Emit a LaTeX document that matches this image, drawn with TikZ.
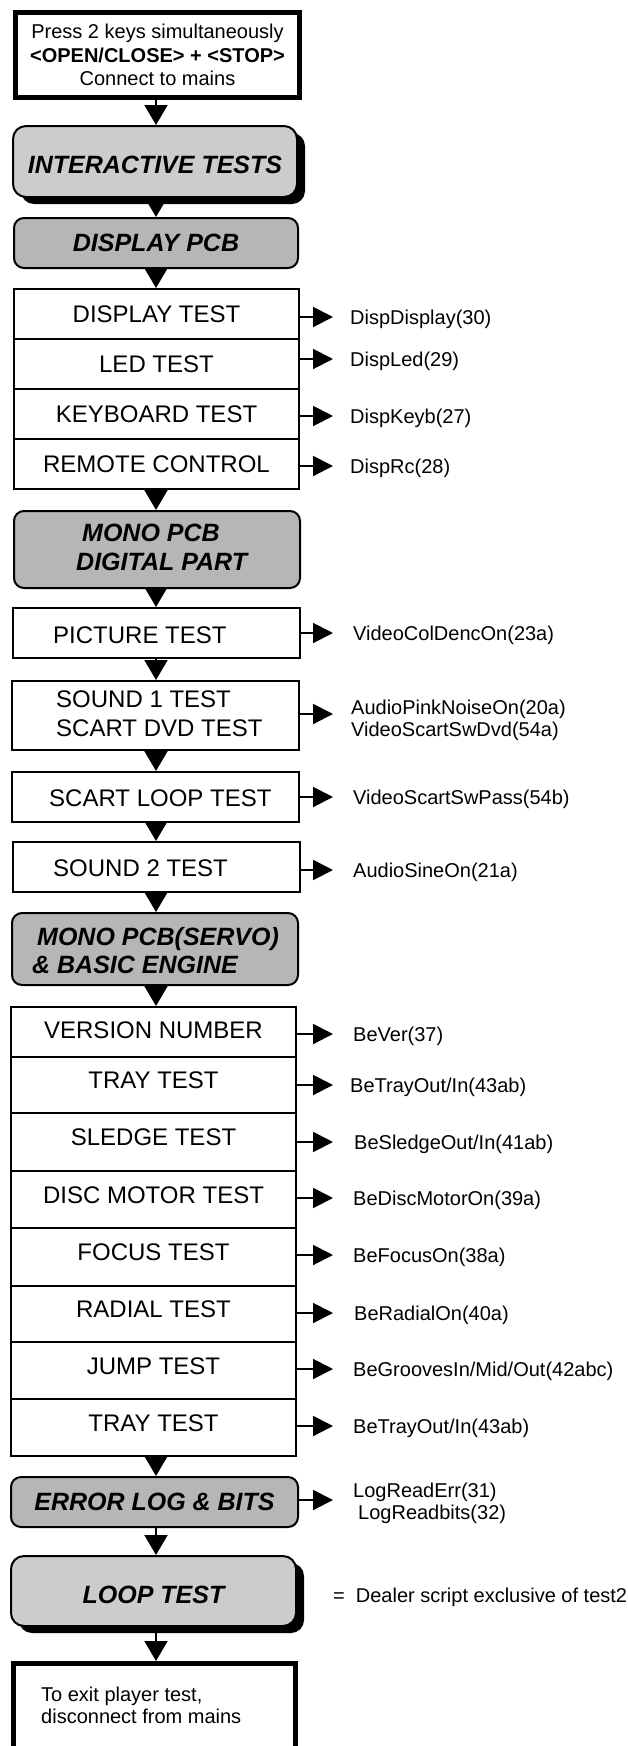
\documentclass[tikz,border=0pt]{standalone}
\usepackage{fontspec}
\setmainfont{Liberation Sans}
\usetikzlibrary{arrows.meta,shadows}
\definecolor{hdark}{RGB}{182,182,182}
\definecolor{hlight}{RGB}{204,204,204}
\newcommand\fsA{\fontsize{24}{28}\selectfont}
\newcommand\fsL{\fontsize{20}{23.5}\selectfont}
\newcommand\fsH{\fontsize{25}{29}\selectfont\bfseries\itshape}
\begin{document}
\begin{tikzpicture}[x=1pt,y=-1pt,
  rowbox/.style={draw, line width=2pt, fill=white, inner sep=0pt, font=\fsA, text height=17.2pt, text depth=0pt},
  hdr/.style={draw, line width=2pt, rounded corners=10pt, fill=hdark, inner sep=0pt, font=\fsH, text height=17.9pt, text depth=0pt},
  hdrs/.style={hdr, fill=hlight, rounded corners=13pt, drop shadow={shadow xshift=8pt, shadow yshift=-7pt, fill=black, opacity=1}},
  heavybox/.style={draw, line width=5pt, fill=white, inner sep=0pt},
  txt/.style={inner sep=0pt, anchor=west, text depth=0pt},
  rtxt/.style={txt, font=\fsA, text height=17.2pt},
  htxt/.style={txt, font=\fsH, text height=17.9pt},
  lbl/.style={txt, font=\fsL, text height=14.3pt},
  darr/.style={line width=2pt, -{Triangle[length=20pt,width=23pt]}},
  sarr/.style={line width=2pt, -{Triangle[length=20pt,width=20pt]}},
]
\useasboundingbox (0,0) rectangle (628,1746);
\coordinate (ax) at (156,0);
\coordinate (tip) at (333,0);

% start box
\node[heavybox, minimum width=284pt, minimum height=85pt, align=center, font=\fsL] (start) at (157.5,55)
  {Press 2 keys simultaneously\\\textbf{<OPEN/CLOSE> + <STOP>}\\Connect to mains};

% interactive
\node[hdrs, minimum width=284pt, minimum height=71pt, text height=24.9pt] (inter) at (155,161.5) {INTERACTIVE TESTS};

% display pcb
\node[hdr, minimum width=284pt, minimum height=50pt] (dpcb) at (156,243) {DISPLAY PCB};

% display rows
\node[rowbox, minimum width=285pt, minimum height=50pt] (d1) at (156.5,314) {DISPLAY TEST};
\node[rowbox, minimum width=285pt, minimum height=50pt] (d2) at (156.5,364) {LED TEST};
\node[rowbox, minimum width=285pt, minimum height=50pt] (d3) at (156.5,414) {KEYBOARD TEST};
\node[rowbox, minimum width=285pt, minimum height=50pt] (d4) at (156.5,464) {REMOTE CONTROL};

\node[lbl] (ld1) at (350,317) {DispDisplay(30)};
\node[lbl] (ld2) at (350,359) {DispLed(29)};
\node[lbl] (ld3) at (350,416) {DispKeyb(27)};
\node[lbl] (ld4) at (350,466) {DispRc(28)};

% mono pcb digital
\node[hdr, minimum width=286pt, minimum height=77pt] (mono) at (157,549.5) {};
\node[htxt] (monoa) at (82,533) {MONO PCB};
\node[htxt] (monob) at (76,562) {DIGITAL PART};

% single boxes
\node[rowbox, minimum width=287pt, minimum height=50pt] (pic) at (156.5,633) {};
\node[rtxt] (pict) at (53,635) {PICTURE TEST};
\node[lbl] (lpic) at (353,633) {VideoColDencOn(23a)};

\node[rowbox, minimum width=287pt, minimum height=69pt] (snd1) at (155.5,715.5) {};
\node[rtxt] (snd1a) at (56,699) {SOUND 1 TEST};
\node[rtxt] (snd1b) at (56,728) {SCART DVD TEST};
\node[lbl] (ls1a) at (351,707) {AudioPinkNoiseOn(20a)};
\node[lbl] (ls1b) at (351,729) {VideoScartSwDvd(54a)};
\coordinate (s1arr) at (333,714);

\node[rowbox, minimum width=287pt, minimum height=50pt] (scart) at (155.5,797) {};
\node[rtxt] (scartt) at (49,798) {SCART LOOP TEST};
\node[lbl] (lsc) at (353,797) {VideoScartSwPass(54b)};

\node[rowbox, minimum width=287pt, minimum height=50pt] (snd2) at (156.5,867) {};
\node[rtxt] (snd2t) at (53,868) {SOUND 2 TEST};
\node[lbl] (ls2) at (353,870) {AudioSineOn(21a)};

% mono servo
\node[hdr, minimum width=286pt, minimum height=72pt] (servo) at (155,949) {};
\node[htxt] (servoa) at (37,937) {MONO PCB(SERVO)};
\node[htxt] (servob) at (32,965) {\& BASIC ENGINE};

% version rows
\node[rowbox, minimum width=285pt, minimum height=50pt, text depth=4pt] (v1) at (153.5,1032) {VERSION NUMBER};
\node[rowbox, minimum width=285pt, minimum height=56pt, text depth=10pt] (v2) at (153.5,1085) {TRAY TEST};
\node[rowbox, minimum width=285pt, minimum height=58pt, text depth=10pt] (v3) at (153.5,1142) {SLEDGE TEST};
\node[rowbox, minimum width=285pt, minimum height=57pt, text depth=10pt] (v4) at (153.5,1199.5) {DISC MOTOR TEST};
\node[rowbox, minimum width=285pt, minimum height=58pt, text depth=10pt] (v5) at (153.5,1257) {FOCUS TEST};
\node[rowbox, minimum width=285pt, minimum height=56pt, text depth=10pt] (v6) at (153.5,1314) {RADIAL TEST};
\node[rowbox, minimum width=285pt, minimum height=57pt, text depth=10pt] (v7) at (153.5,1370.5) {JUMP TEST};
\node[rowbox, minimum width=285pt, minimum height=57pt, text depth=10pt] (v8) at (153.5,1427.5) {TRAY TEST};

\node[lbl] (lv1) at (353,1034) {BeVer(37)};
\node[lbl] (lv2) at (350,1085) {BeTrayOut/In(43ab)};
\node[lbl] (lv3) at (354,1142) {BeSledgeOut/In(41ab)};
\node[lbl] (lv4) at (353,1198) {BeDiscMotorOn(39a)};
\node[lbl] (lv5) at (353,1255) {BeFocusOn(38a)};
\node[lbl] (lv6) at (354,1313) {BeRadialOn(40a)};
\node[lbl] (lv7) at (353,1369) {BeGroovesIn/Mid/Out(42abc)};
\node[lbl] (lv8) at (353,1426) {BeTrayOut/In(43ab)};

% error log
\node[hdr, minimum width=287pt, minimum height=50pt] (err) at (154.5,1502) {ERROR LOG \& BITS};
\node[lbl] (le1) at (353,1490) {LogReadErr(31)};
\node[lbl] (le2) at (358,1512) {LogReadbits(32)};
\coordinate (earr) at (333,1500);

% loop test
\node[hdrs, minimum width=285pt, minimum height=70pt, text height=25.9pt] (loop) at (153.5,1591) {LOOP TEST};
\node[lbl] (deal) at (333,1595) {=\hspace{11pt}Dealer script exclusive of test2};

% exit (bottom edge runs off the page)
\node[heavybox, minimum width=282pt, minimum height=100pt] (exit) at (154.5,1713.5) {};
\node[lbl] (exa) at (41,1694) {To exit player test,};
\node[lbl] (exb) at (41,1716) {disconnect from mains};

% vertical arrows
\draw[darr] (start.south -| ax) -- (inter.north -| ax);
\draw[darr] (inter.south -| ax) -- (dpcb.north -| ax);
\draw[darr] (dpcb.south -| ax) -- (d1.north -| ax);
\draw[darr] (d4.south -| ax) -- (mono.north -| ax);
\draw[darr] (mono.south -| ax) -- (pic.north -| ax);
\draw[darr] (pic.south -| ax) -- (snd1.north -| ax);
\draw[darr] (snd1.south -| ax) -- (scart.north -| ax);
\draw[darr] (scart.south -| ax) -- (snd2.north -| ax);
\draw[darr] (snd2.south -| ax) -- (servo.north -| ax);
\draw[darr] (servo.south -| ax) -- (v1.north -| ax);
\draw[darr] (v8.south -| ax) -- (err.north -| ax);
\draw[darr] (err.south -| ax) -- (loop.north -| ax);
\draw[darr] (loop.south -| ax) -- (exit.north -| ax);

% side arrows
\draw[sarr] (d1.east |- ld1.west) -- (ld1.west -| tip);
\draw[sarr] (d2.east |- ld2.west) -- (ld2.west -| tip);
\draw[sarr] (d3.east |- ld3.west) -- (ld3.west -| tip);
\draw[sarr] (d4.east |- ld4.west) -- (ld4.west -| tip);
\draw[sarr] (pic.east |- lpic.west) -- (lpic.west -| tip);
\draw[sarr] (snd1.east |- s1arr) -- (s1arr);
\draw[sarr] (scart.east |- lsc.west) -- (lsc.west -| tip);
\draw[sarr] (snd2.east |- ls2.west) -- (ls2.west -| tip);
\draw[sarr] (v1.east |- lv1.west) -- (lv1.west -| tip);
\draw[sarr] (v2.east |- lv2.west) -- (lv2.west -| tip);
\draw[sarr] (v3.east |- lv3.west) -- (lv3.west -| tip);
\draw[sarr] (v4.east |- lv4.west) -- (lv4.west -| tip);
\draw[sarr] (v5.east |- lv5.west) -- (lv5.west -| tip);
\draw[sarr] (v6.east |- lv6.west) -- (lv6.west -| tip);
\draw[sarr] (v7.east |- lv7.west) -- (lv7.west -| tip);
\draw[sarr] (v8.east |- lv8.west) -- (lv8.west -| tip);
\draw[sarr] (err.east |- earr) -- (earr);
\end{tikzpicture}
\end{document}
